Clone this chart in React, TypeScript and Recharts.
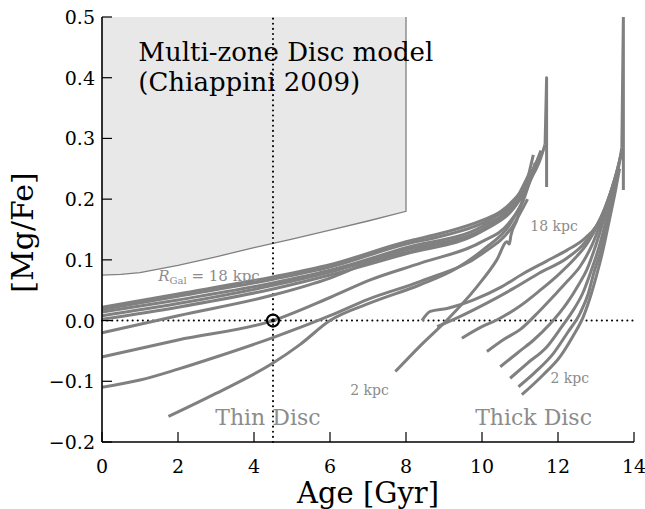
import React from 'react';
import { ComposedChart, Line, Area, XAxis, YAxis, ReferenceLine, ReferenceDot } from 'recharts';

const GREY = '#808080';
const LABEL_GREY = '#8c8c8c';
const FONT = '"DejaVu Serif", "Liberation Serif", serif';

const xTicks = [0, 2, 4, 6, 8, 10, 12, 14];
const yTicks = [-0.2, -0.1, 0, 0.1, 0.2, 0.3, 0.4, 0.5];
const yTickLabels = ['−0.2', '−0.1', '0.0', '0.1', '0.2', '0.3', '0.4', '0.5'];

// shaded region of the multi-zone model (lower edge), ages 0..8 Gyr
const boxAge = [0, 0.5, 1, 2, 3, 4, 5, 6, 7, 8];
const boxLow = [0.075, 0.076, 0.079, 0.091, 0.105, 0.12, 0.134, 0.149, 0.164, 0.18];
const boxTop = 0.5;

// thin disc tracks [age, Mg/Fe]
const thin1 = [[0, 0.022], [2, 0.044], [4.5, 0.072], [6, 0.092], [8, 0.13], [9, 0.145], [10, 0.165], [10.5, 0.18], [11, 0.21], [11.3, 0.235], [11.5, 0.26], [11.66, 0.29]];
const thin2 = [[0, 0.018], [2, 0.04], [4.5, 0.068], [6, 0.088], [8, 0.126], [9, 0.14], [10, 0.16], [10.5, 0.177], [11, 0.205], [11.3, 0.24], [11.55, 0.28]];
const thin3 = [[0, 0.014], [2, 0.034], [4.5, 0.062], [6, 0.083], [8, 0.12], [10, 0.155], [10.8, 0.19], [11.2, 0.23], [11.5, 0.27]];
const thin4 = [[0, 0.008], [2, 0.028], [4.5, 0.058], [6, 0.08], [8, 0.116], [10, 0.15], [10.8, 0.185], [11.2, 0.22], [11.45, 0.26]];
const thin5 = [[0, 0.002], [2, 0.022], [4.5, 0.052], [6, 0.075], [8, 0.11], [10, 0.147], [11, 0.2], [11.4, 0.25]];
const thin6 = [[0, -0.02], [2, 0.008], [4.5, 0.042], [6, 0.07], [7, 0.095], [8.4, 0.118], [10, 0.148], [10.8, 0.19], [11.3, 0.25]];
const thin7 = [[0, -0.06], [2, -0.032], [4.5, 0.0], [6, 0.038], [7.06, 0.067], [8.4, 0.095], [10, 0.13], [10.7, 0.16], [11.1, 0.2], [11.4, 0.26]];
const thin8 = [[0, -0.11], [1, -0.098], [2, -0.08], [3, -0.06], [4.5, -0.028], [6, 0.008], [7, 0.035], [8.4, 0.065], [10, 0.11], [10.8, 0.155], [11.2, 0.2]];
const thin9 = [[1.75, -0.158], [3, -0.12], [4.5, -0.07], [5.2, -0.04], [6, 0.0], [7.06, 0.029], [8.37, 0.059], [9.3, 0.085], [10.1, 0.12], [10.7, 0.155], [11.1, 0.2]];
const thin10 = [[7.72, -0.084], [8.4, -0.04], [9.08, 0.001], [9.87, 0.056], [10.39, 0.1], [10.66, 0.13], [10.72, 0.126], [10.76, 0.14], [10.92, 0.166], [11.15, 0.22], [11.35, 0.273]];
const thinSpike = [[11.66, 0.29], [11.7, 0.4], [11.7, 0.22]];

// thick disc tracks [age, Mg/Fe]
const thick1 = [[8.42, 0.0], [8.64, 0.015], [9.08, 0.02], [9.78, 0.034], [10.5, 0.055], [11.1, 0.078], [11.7, 0.098], [12.24, 0.116], [12.7, 0.135], [13.0, 0.155], [13.25, 0.185], [13.46, 0.226], [13.6, 0.255], [13.68, 0.285]];
const thick2 = [[8.82, -0.01], [9.43, 0.007], [10.1, 0.028], [10.83, 0.053], [11.5, 0.078], [12.24, 0.103], [12.7, 0.128], [13.05, 0.16], [13.3, 0.195], [13.5, 0.235], [13.65, 0.27]];
const thick3 = [[9.47, -0.029], [10.0, -0.01], [10.39, 0.001], [11.0, 0.024], [11.53, 0.05], [12.0, 0.075], [12.41, 0.1], [12.8, 0.13], [13.1, 0.165], [13.35, 0.205], [13.55, 0.245], [13.66, 0.275]];
const thick4 = [[10.13, -0.051], [10.6, -0.03], [11.0, -0.015], [11.5, 0.015], [11.88, 0.04], [12.25, 0.065], [12.58, 0.089], [12.9, 0.125], [13.15, 0.165], [13.4, 0.21], [13.6, 0.255]];
const thick5 = [[10.48, -0.076], [11.0, -0.05], [11.36, -0.032], [11.8, -0.005], [12.24, 0.029], [12.55, 0.06], [12.76, 0.084], [13.0, 0.125], [13.2, 0.165], [13.4, 0.21], [13.58, 0.25]];
const thick6 = [[10.74, -0.095], [11.2, -0.07], [11.71, -0.043], [12.1, -0.01], [12.41, 0.018], [12.65, 0.045], [12.85, 0.078], [13.05, 0.115], [13.25, 0.16], [13.45, 0.21], [13.6, 0.25]];
const thick7 = [[10.96, -0.109], [11.4, -0.085], [11.88, -0.054], [12.25, -0.02], [12.58, 0.012], [12.8, 0.045], [12.94, 0.078], [13.1, 0.11], [13.3, 0.16], [13.48, 0.21], [13.6, 0.25]];
const thick8 = [[11.05, -0.122], [11.6, -0.09], [12.06, -0.059], [12.4, -0.025], [12.67, 0.007], [12.88, 0.045], [13.03, 0.078], [13.18, 0.115], [13.35, 0.165], [13.5, 0.21], [13.62, 0.25]];
const thickSpike = [[13.68, 0.285], [13.72, 0.5], [13.72, 0.215]];

const thinTracks = [thin1, thin2, thin3, thin4, thin5, thin6, thin7, thin8, thin9, thin10];
const thickTracks = [thick1, thick2, thick3, thick4, thick5, thick6, thick7, thick8];
const spikes = [thinSpike, thickSpike];

const sunAge = 4.5;
const sunMgFe = 0.0;

const toPts = (t: number[][]) => t.map(([x, y]) => ({ x, y }));

const boxFill = boxAge.map((x, i) => ({ x, range: [boxLow[i], boxTop] }));
const boxEdge = [...boxAge.map((x, i) => ({ x, y: boxLow[i] })), { x: boxAge[boxAge.length - 1], y: boxTop }];

// ticks point inwards (negative size); labels sit outside via the margin
const TICK_LEN = 10;
const tickStroke = { stroke: '#000', strokeWidth: 1.2 };

const BottomTick = (p: any) => (
  <text x={p.x} y={p.y + 20} textAnchor="middle" fontFamily={FONT} fontSize={19} fill="#000">
    {p.payload.value}
  </text>
);

const LeftTick = (p: any) => {
  const i = yTicks.findIndex((v) => Math.abs(v - p.payload.value) < 1e-9);
  return (
    <text x={p.x} y={p.y + 7} textAnchor="end" fontFamily={FONT} fontSize={19} fill="#000">
      {yTickLabels[i]}
    </text>
  );
};

const NoLabel = () => <g />;

const note = (text: React.ReactNode, size: number, color: string) => (p: any) => (
  <text x={p.cx} y={p.cy} fontFamily={FONT} fontSize={size} fill={color}>
    {text}
  </text>
);

export default function App() {
  return (
    <div style={{ position: 'absolute', left: 0, top: 0, background: '#fff' }}>
      <ComposedChart width={645} height={509} margin={{ top: 17, right: 11, bottom: 0, left: 0 }}>
        <Area
          data={boxFill}
          dataKey="range"
          type="monotone"
          fill="#e8e8e8"
          fillOpacity={1}
          stroke="none"
          isAnimationActive={false}
        />
        <Line data={boxEdge} dataKey="y" type="linear" stroke={GREY} strokeWidth={1.3} dot={false} activeDot={false} isAnimationActive={false} />

        <ReferenceLine x={sunAge} stroke="#000" strokeWidth={2} strokeDasharray="0.1 5" strokeLinecap="round" />
        <ReferenceLine y={sunMgFe} stroke="#000" strokeWidth={2} strokeDasharray="0.1 5" strokeLinecap="round" />

        {thinTracks.map((t, i) => (
          <Line key={`thin${i}`} data={toPts(t)} dataKey="y" type="monotone" stroke={GREY} strokeWidth={3} strokeLinejoin="round" dot={false} activeDot={false} isAnimationActive={false} />
        ))}
        {thickTracks.map((t, i) => (
          <Line key={`thick${i}`} data={toPts(t)} dataKey="y" type="monotone" stroke={GREY} strokeWidth={3} strokeLinejoin="round" dot={false} activeDot={false} isAnimationActive={false} />
        ))}
        {spikes.map((t, i) => (
          <Line key={`spike${i}`} data={toPts(t)} dataKey="y" type="linear" stroke={GREY} strokeWidth={3} strokeLinejoin="round" dot={false} activeDot={false} isAnimationActive={false} />
        ))}

        <XAxis
          dataKey="x"
          type="number"
          domain={[0, 14]}
          ticks={xTicks}
          allowDataOverflow
          height={67}
          tickSize={-TICK_LEN}
          tickMargin={TICK_LEN + 11}
          tickLine={tickStroke}
          axisLine={{ stroke: '#000', strokeWidth: 1.6 }}
          tick={<BottomTick />}
          label={(p: any) => (
            <text
              x={p.viewBox.x + p.viewBox.width / 2}
              y={p.viewBox.y + 61}
              textAnchor="middle"
              fontFamily={FONT}
              fontSize={29}
              fill="#000"
            >
              Age [Gyr]
            </text>
          )}
        />
        <XAxis
          xAxisId="top"
          orientation="top"
          type="number"
          domain={[0, 14]}
          ticks={xTicks}
          height={0}
          tickSize={-TICK_LEN}
          tickLine={tickStroke}
          tick={<NoLabel />}
          axisLine={{ stroke: '#000', strokeWidth: 1.6 }}
        />
        <YAxis
          type="number"
          domain={[-0.2, 0.5]}
          ticks={yTicks}
          allowDataOverflow
          width={102}
          tickSize={-TICK_LEN}
          tickMargin={TICK_LEN + 7}
          tickLine={tickStroke}
          axisLine={{ stroke: '#000', strokeWidth: 1.6 }}
          tick={<LeftTick />}
          label={(p: any) => {
            const cy = p.viewBox.y + p.viewBox.height / 2 + 3;
            return (
              <text
                x={33}
                y={cy}
                transform={`rotate(-90 33 ${cy})`}
                textAnchor="middle"
                fontFamily={FONT}
                fontSize={30}
                fill="#000"
              >
                [Mg/Fe]
              </text>
            );
          }}
        />
        <YAxis
          yAxisId="right"
          orientation="right"
          type="number"
          domain={[-0.2, 0.5]}
          ticks={yTicks}
          width={0}
          tickSize={-TICK_LEN}
          tickLine={tickStroke}
          tick={<NoLabel />}
          axisLine={{ stroke: '#000', strokeWidth: 1.6 }}
        />

        <ReferenceDot x={sunAge} y={sunMgFe} r={6} fill="none" stroke="#000" strokeWidth={2.2} />
        <ReferenceDot x={sunAge} y={sunMgFe} r={2} fill="#000" stroke="none" />

        <ReferenceDot x={0.955} y={0.428} shape={note('Multi-zone Disc model', 26, '#000')} />
        <ReferenceDot x={0.955} y={0.378} shape={note('(Chiappini 2009)', 26, '#000')} />
        <ReferenceDot
          x={1.48}
          y={0.066}
          shape={note(
            <>
              <tspan fontStyle="italic">R</tspan>
              <tspan fontSize={10} dy={3}>Gal</tspan>
              <tspan dy={-3}> = 18 kpc</tspan>
            </>,
            15,
            LABEL_GREY
          )}
        />
        <ReferenceDot x={11.27} y={0.148} shape={note('18 kpc', 14, LABEL_GREY)} />
        <ReferenceDot x={11.8} y={-0.103} shape={note('2 kpc', 14, LABEL_GREY)} />
        <ReferenceDot x={6.53} y={-0.122} shape={note('2 kpc', 14, LABEL_GREY)} />
        <ReferenceDot x={2.98} y={-0.172} shape={note('Thin Disc', 22, LABEL_GREY)} />
        <ReferenceDot x={9.82} y={-0.172} shape={note('Thick Disc', 22, LABEL_GREY)} />
      </ComposedChart>
    </div>
  );
}
